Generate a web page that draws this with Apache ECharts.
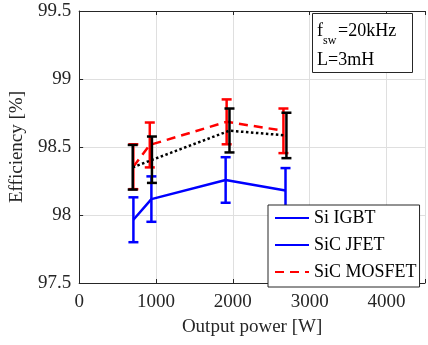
<!DOCTYPE html>
<html>
<head>
<meta charset="utf-8">
<script src="https://cdn.jsdelivr.net/npm/echarts@6/dist/echarts.min.js"></script>
<style>
  html, body { margin: 0; padding: 0; background: #fff; }
  #chart { width: 428px; height: 345px; }
</style>
</head>
<body>
<div id="chart"></div>
<script>
const SERIF = 'Liberation Serif';

const xTicks = [0, 1000, 2000, 3000, 4000];
const yTicks = [97.5, 98, 98.5, 99, 99.5];

// Si IGBT (blue solid)
const igbtPower = [706, 940, 1906, 2685];
const igbtEff = [97.965, 98.117, 98.257, 98.18];
const igbtLow = [97.80, 97.95, 98.09, 98.015];
const igbtHigh = [98.13, 98.284, 98.425, 98.345];

// SiC MOSFET (red dashed)
const mosPower = [705, 919, 1919, 2658];
const mosEff = [98.355, 98.515, 98.685, 98.62];
const mosLow = [98.19, 98.35, 98.52, 98.455];
const mosHigh = [98.52, 98.68, 98.85, 98.783];

// SiC JFET (black dotted)
const jfetPower = [697, 947, 1956, 2697];
const jfetEff = [98.35, 98.405, 98.62, 98.585];
const jfetLow = [98.187, 98.236, 98.46, 98.418];
const jfetHigh = [98.515, 98.577, 98.783, 98.752];

const zip2 = (a, b) => a.map((v, i) => [v, b[i]]);
const zip3 = (a, b, c) => a.map((v, i) => [v, b[i], c[i]]);

function errorBars(color) {
  return function (params, api) {
    const x = api.value(0);
    const lo = api.coord([x, api.value(1)]);
    const hi = api.coord([x, api.value(2)]);
    const style = { stroke: color, lineWidth: 2.5 };
    return {
      type: 'group',
      children: [
        { type: 'line', shape: { x1: lo[0], y1: lo[1], x2: hi[0], y2: hi[1] }, style },
        { type: 'line', shape: { x1: lo[0] - 5, y1: lo[1], x2: lo[0] + 5, y2: lo[1] }, style },
        { type: 'line', shape: { x1: hi[0] - 5, y1: hi[1], x2: hi[0] + 5, y2: hi[1] }, style }
      ]
    };
  };
}

const axisCol = '#262626';

const chart = echarts.init(document.getElementById('chart'));

const option = {
  animation: false,
  textStyle: { fontFamily: SERIF },
  grid: { left: 72.5, top: 11, right: -4, bottom: 62 },
  xAxis: [{
    type: 'value',
    min: 0, max: 4500, interval: 1000,
    name: 'Output power [W]',
    nameLocation: 'middle',
    nameGap: 35,
    nameTextStyle: { fontFamily: SERIF, fontSize: 19, color: axisCol },
    axisLine: { show: true, lineStyle: { color: axisCol, width: 1 } },
    axisTick: { show: true, inside: true, length: 4, lineStyle: { color: axisCol } },
    axisLabel: {
      fontFamily: SERIF, fontSize: 19, color: axisCol, margin: 10,
      formatter: v => xTicks.includes(v) ? String(v) : ''
    },
    splitLine: { show: true, lineStyle: { color: '#dfdfdf', width: 1 } }
  }, {
    type: 'value',
    position: 'top',
    min: 0, max: 4500, interval: 1000,
    axisLine: { show: true, lineStyle: { color: axisCol, width: 1 } },
    axisTick: { show: true, inside: true, length: 4, lineStyle: { color: axisCol } },
    axisLabel: { show: false },
    splitLine: { show: false }
  }],
  yAxis: {
    type: 'value',
    min: 97.5, max: 99.5, interval: 0.5,
    name: 'Efficiency [%]',
    nameLocation: 'middle',
    nameGap: 45,
    nameTextStyle: { fontFamily: SERIF, fontSize: 19, color: axisCol },
    axisLine: { show: true, lineStyle: { color: axisCol, width: 1 } },
    axisTick: { show: true, inside: true, length: 4, lineStyle: { color: axisCol } },
    axisLabel: {
      fontFamily: SERIF, fontSize: 19, color: axisCol, margin: 8,
      formatter: v => yTicks.includes(v) ? String(v) : ''
    },
    splitLine: { show: true, lineStyle: { color: '#dfdfdf', width: 1 } }
  },
  legend: {
    orient: 'vertical',
    left: 268,
    top: 205,
    padding: [4, 3, 6, 6],
    itemGap: 9,
    itemWidth: 34,
    itemHeight: 14,
    backgroundColor: '#fff',
    borderColor: axisCol,
    borderWidth: 1,
    borderRadius: 0,
    itemStyle: { opacity: 0 },
    data: ['Si IGBT', 'SiC JFET', 'SiC MOSFET'],
    textStyle: { fontFamily: SERIF, fontSize: 18, color: '#000' }
  },
  series: [
    {
      name: 'Si IGBT', type: 'line', symbol: 'none', z: 3,
      data: zip2(igbtPower, igbtEff),
      lineStyle: { color: '#0000ff', width: 2.5 },
      itemStyle: { color: '#0000ff' }
    },
    {
      type: 'custom', name: 'igbt-err', z: 3,
      renderItem: errorBars('#0000ff'),
      data: zip3(igbtPower, igbtLow, igbtHigh),
      encode: { x: 0, y: [1, 2] }
    },
    {
      name: 'SiC JFET', type: 'line', symbol: 'none', data: [],
      lineStyle: { color: '#0000ff', width: 2.5 },
      itemStyle: { color: '#0000ff' }
    },
    {
      name: 'SiC MOSFET', type: 'line', symbol: 'none', z: 4,
      data: zip2(mosPower, mosEff),
      lineStyle: { color: '#ff0000', width: 2.5, type: [9, 6] },
      itemStyle: { color: '#ff0000' }
    },
    {
      type: 'custom', name: 'mos-err', z: 4,
      renderItem: errorBars('#ff0000'),
      data: zip3(mosPower, mosLow, mosHigh),
      encode: { x: 0, y: [1, 2] }
    },
    {
      name: 'jfet-line', type: 'line', symbol: 'none', z: 5,
      data: zip2(jfetPower, jfetEff),
      lineStyle: { color: '#000', width: 2.5, type: [2.5, 2.5] },
      itemStyle: { color: '#000' }
    },
    {
      type: 'custom', name: 'jfet-err', z: 5,
      renderItem: errorBars('#000'),
      data: zip3(jfetPower, jfetLow, jfetHigh),
      encode: { x: 0, y: [1, 2] }
    }
  ],
  graphic: [
    {
      type: 'rect', z: 10,
      shape: { x: 312.5, y: 13.5, width: 100, height: 59 },
      style: { fill: '#fff', stroke: axisCol, lineWidth: 1 }
    },
    {
      type: 'text', z: 11, x: 317, y: 31,
      style: { text: 'f', fontFamily: SERIF, fontSize: 18, fill: '#000', verticalAlign: 'middle' }
    },
    {
      type: 'text', z: 11, x: 323, y: 41,
      style: { text: 'sw', fontFamily: SERIF, fontSize: 12, fill: '#000', verticalAlign: 'middle' }
    },
    {
      type: 'text', z: 11, x: 338, y: 31,
      style: { text: '=20kHz', fontFamily: SERIF, fontSize: 18, fill: '#000', verticalAlign: 'middle' }
    },
    {
      type: 'text', z: 11, x: 317, y: 60,
      style: { text: 'L=3mH', fontFamily: SERIF, fontSize: 18, fill: '#000', verticalAlign: 'middle' }
    }
  ]
};

chart.setOption(option);
</script>
</body>
</html>
